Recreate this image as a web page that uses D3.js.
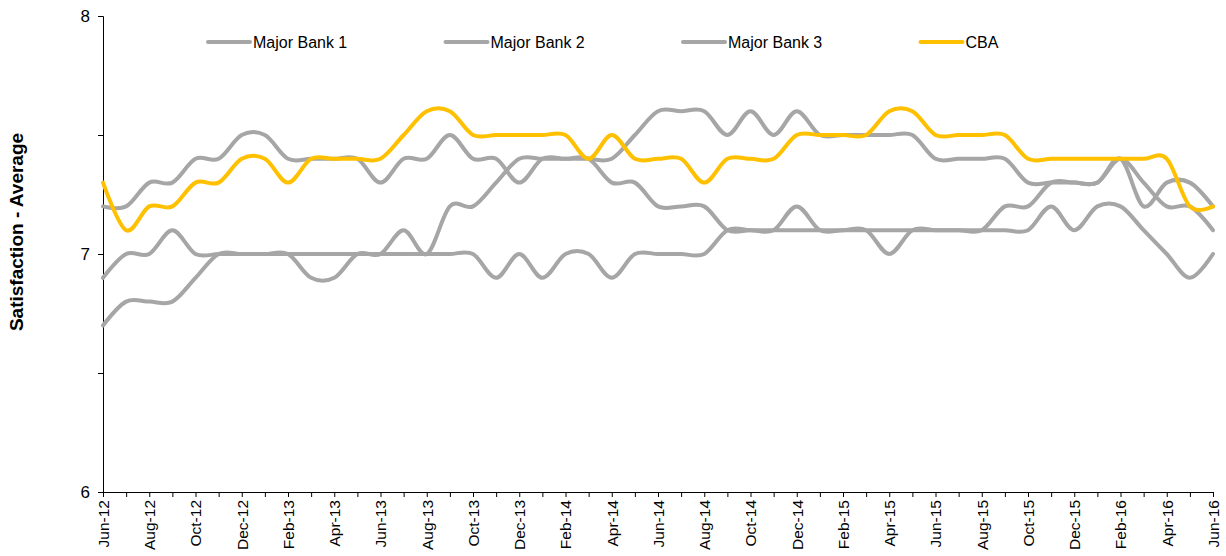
<!DOCTYPE html>
<html>
<head>
<meta charset="utf-8">
<script src="https://cdn.jsdelivr.net/npm/d3@7/dist/d3.min.js"></script>
<style>
  html, body { margin: 0; padding: 0; background: #ffffff; }
  svg { display: block; font-family: "Liberation Sans", Arial, sans-serif; }
</style>
</head>
<body>
<svg id="chart" width="1226" height="556"></svg>
<script>
// Monthly survey periods
const months = ["Jun-12","Jul-12","Aug-12","Sep-12","Oct-12","Nov-12","Dec-12","Jan-13","Feb-13","Mar-13","Apr-13","May-13",
  "Jun-13","Jul-13","Aug-13","Sep-13","Oct-13","Nov-13","Dec-13","Jan-14","Feb-14","Mar-14","Apr-14","May-14",
  "Jun-14","Jul-14","Aug-14","Sep-14","Oct-14","Nov-14","Dec-14","Jan-15","Feb-15","Mar-15","Apr-15","May-15",
  "Jun-15","Jul-15","Aug-15","Sep-15","Oct-15","Nov-15","Dec-15","Jan-16","Feb-16","Mar-16","Apr-16","May-16","Jun-16"];

// Average satisfaction score per bank
const majorBank1 = [7.2,7.2,7.3,7.3,7.4,7.4,7.5,7.5,7.4,7.4,7.4,7.4,
  7.3,7.4,7.4,7.5,7.4,7.4,7.3,7.4,7.4,7.4,7.3,7.3,
  7.2,7.2,7.2,7.1,7.1,7.1,7.2,7.1,7.1,7.1,7.1,7.1,
  7.1,7.1,7.1,7.2,7.2,7.3,7.3,7.3,7.4,7.3,7.2,7.2,7.1];
const majorBank2 = [6.9,7.0,7.0,7.1,7.0,7.0,7.0,7.0,7.0,6.9,6.9,7.0,
  7.0,7.1,7.0,7.2,7.2,7.3,7.4,7.4,7.4,7.4,7.4,7.5,
  7.6,7.6,7.6,7.5,7.6,7.5,7.6,7.5,7.5,7.5,7.5,7.5,
  7.4,7.4,7.4,7.4,7.3,7.3,7.3,7.3,7.4,7.2,7.3,7.3,7.2];
const majorBank3 = [6.7,6.8,6.8,6.8,6.9,7.0,7.0,7.0,7.0,7.0,7.0,7.0,
  7.0,7.0,7.0,7.0,7.0,6.9,7.0,6.9,7.0,7.0,6.9,7.0,
  7.0,7.0,7.0,7.1,7.1,7.1,7.1,7.1,7.1,7.1,7.0,7.1,
  7.1,7.1,7.1,7.1,7.1,7.2,7.1,7.2,7.2,7.1,7.0,6.9,7.0];
const cba = [7.3,7.1,7.2,7.2,7.3,7.3,7.4,7.4,7.3,7.4,7.4,7.4,
  7.4,7.5,7.6,7.6,7.5,7.5,7.5,7.5,7.5,7.4,7.5,7.4,
  7.4,7.4,7.3,7.4,7.4,7.4,7.5,7.5,7.5,7.5,7.6,7.6,
  7.5,7.5,7.5,7.5,7.4,7.4,7.4,7.4,7.4,7.4,7.4,7.2,7.2];

const seriesNames = ["Major Bank 1", "Major Bank 2", "Major Bank 3", "CBA"];
const seriesValues = [majorBank1, majorBank2, majorBank3, cba];
const seriesColors = ["#a6a6a6", "#a6a6a6", "#a6a6a6", "#ffc000"];

const yTicks = [6, 6.5, 7, 7.5, 8];
const yTitle = "Satisfaction - Average";

const width = 1226, height = 556;
const margin = { top: 16, right: 13, bottom: 64, left: 103 };

const svg = d3.select("#chart");

const x = d3.scalePoint()
  .domain(months)
  .range([margin.left, width - margin.right]);

const y = d3.scaleLinear()
  .domain([6, 8])
  .range([height - margin.bottom, margin.top]);

// Y axis: ticks every half point, labels on whole numbers only
const yAxis = d3.axisLeft(y)
  .tickValues(yTicks)
  .tickSize(5)
  .tickPadding(8)
  .tickFormat(d => Number.isInteger(d) ? d3.format("d")(d) : "");

const gy = svg.append("g")
  .attr("transform", `translate(${margin.left},0)`)
  .call(yAxis);
gy.select(".domain").attr("stroke", "#000").attr("stroke-width", 1);
gy.selectAll(".tick line").attr("stroke", "#000");
gy.selectAll(".tick text")
  .attr("fill", "#000")
  .style("font-size", "17px");

// X axis: a tick for every month, label every second month
const xAxis = d3.axisBottom(x)
  .tickSize(5)
  .tickPadding(4)
  .tickFormat((d, i) => i % 2 === 0 ? d : "");

const gx = svg.append("g")
  .attr("transform", `translate(0,${height - margin.bottom})`)
  .call(xAxis);
gx.select(".domain").attr("stroke", "#000").attr("stroke-width", 1);
gx.selectAll(".tick line").attr("stroke", "#000");
gx.selectAll(".tick text")
  .attr("fill", "#000")
  .style("font-size", "15.5px")
  .attr("transform", "rotate(-90)")
  .attr("text-anchor", "end")
  .attr("x", -8)
  .attr("y", 0)
  .attr("dy", "0.35em");

// Y axis title
svg.append("text")
  .attr("transform", "translate(23,232) rotate(-90)")
  .attr("text-anchor", "middle")
  .style("font-size", "19px")
  .style("font-weight", "bold")
  .attr("fill", "#000")
  .text(yTitle);

// Smoothed lines, grey banks first and CBA drawn on top
const line = d3.line()
  .x((d, i) => x(months[i]))
  .y(d => y(d))
  .curve(d3.curveCatmullRom.alpha(0));

svg.append("g")
  .selectAll("path")
  .data(seriesValues)
  .join("path")
  .attr("d", d => line(d))
  .attr("fill", "none")
  .attr("stroke", (d, i) => seriesColors[i])
  .attr("stroke-width", 4)
  .attr("stroke-linejoin", "round")
  .attr("stroke-linecap", "round");

// Legend across the top of the plot
const legend = svg.append("g");
const item = legend.selectAll("g")
  .data(seriesNames)
  .join("g")
  .attr("transform", (d, i) => `translate(${208 + i * 237.5},42)`);
item.append("line")
  .attr("x1", 0).attr("x2", 42)
  .attr("y1", 0).attr("y2", 0)
  .attr("stroke", (d, i) => seriesColors[i])
  .attr("stroke-width", 4)
  .attr("stroke-linecap", "round");
item.append("text")
  .attr("x", 45)
  .attr("y", 0)
  .attr("dy", "0.35em")
  .style("font-size", "16px")
  .attr("fill", "#000")
  .text(d => d);
</script>
</body>
</html>
